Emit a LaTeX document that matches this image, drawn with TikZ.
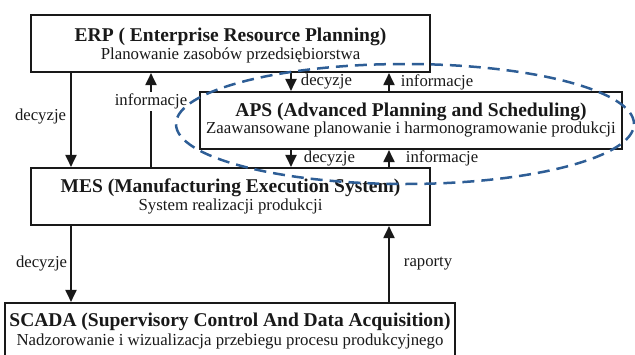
\documentclass[tikz,border=0pt]{standalone}
\usepackage{fontspec}
\setmainfont{Liberation Serif}
\usetikzlibrary{arrows.meta}
\definecolor{dashblue}{RGB}{46,94,150}
\definecolor{ink}{RGB}{25,25,25}
\begin{document}
\begin{tikzpicture}[x=1pt,y=-1pt,
  sysbox/.style={draw=ink, line width=2.1pt, inner sep=0pt, fill=white},
  ttl/.style={anchor=base, inner sep=0pt, text=ink, font=\fontsize{19.5}{22}\selectfont\bfseries},
  sub/.style={anchor=base, inner sep=0pt, text=ink, font=\fontsize{16.8}{19}\selectfont},
  lbl/.style={inner sep=0pt, text=ink, font=\fontsize{16.7}{19}\selectfont},
  arr/.style={line width=1.9pt, draw=ink, -{Triangle[length=12pt,width=11pt]}},
  ring/.style={draw=dashblue, line width=2.5pt, dash pattern=on 12pt off 7pt}
]
\useasboundingbox (0,0) rectangle (635,354);

% boxes
\node[sysbox, minimum width=399pt, minimum height=57pt] (erp) at (230.5,43.5) {};
\node[sysbox, minimum width=422pt, minimum height=57pt] (aps) at (411,120.5) {};
\node[sysbox, minimum width=399pt, minimum height=57pt] (mes) at (230.5,196.5) {};
\node[sysbox, minimum width=450pt, minimum height=57pt] (scada) at (230,331.5) {};

% texts
\node[ttl] (erpT) at (230.5,41.7) {ERP ( Enterprise Resource Planning)};
\node[sub] (erpS) at (230.5,59.5) {Planowanie zasobów przedsiębiorstwa};
\node[ttl] (apsT) at (411,116.5) {APS (Advanced Planning and Scheduling)};
\node[sub] (apsS) at (411,133) {Zaawansowane planowanie i harmonogramowanie produkcji};
\node[ttl] (mesT) at (230.5,192.3) {MES (Manufacturing Execution System)};
\node[sub] (mesS) at (230.5,210) {System realizacji produkcji};
\node[ttl] (scadaT) at (230,326.7) {SCADA (Supervisory Control And Data Acquisition)};
\node[sub] (scadaS) at (230,345.5) {Nadzorowanie i wizualizacja przebiegu procesu produkcyjnego};

% x positions of connectors
\coordinate (xa) at (71,0);
\coordinate (xb) at (151,0);
\coordinate (xc) at (291,0);
\coordinate (xd) at (389,0);

\draw[arr] (erp.south -| xa) -- (mes.north -| xa)
  node[lbl, pos=0.46, anchor=east, xshift=-4pt] {decyzje};
\draw[arr] (mes.north -| xb) -- (erp.south -| xb)
  node[lbl, pos=0.7, fill=white, inner sep=2pt] {informacje};
\draw[arr] (erp.south -| xc) -- (aps.north -| xc)
  node[lbl, midway, anchor=west, xshift=9pt] {decyzje};
\draw[arr] (aps.north -| xd) -- (erp.south -| xd)
  node[lbl, midway, anchor=west, xshift=11pt] {informacje};
\draw[arr] (aps.south -| xc) -- (mes.north -| xc)
  node[lbl, midway, anchor=west, xshift=12pt] {decyzje};
\draw[arr] (mes.north -| xd) -- (aps.south -| xd)
  node[lbl, midway, anchor=west, xshift=16pt] {informacje};
\draw[arr] (mes.south -| xa) -- (scada.north -| xa)
  node[lbl, midway, anchor=east, xshift=-3pt] {decyzje};
\draw[arr] (scada.north -| xd) -- (mes.south -| xd)
  node[lbl, midway, anchor=west, xshift=14pt] {raporty};

% dashed ellipse
\draw[ring] (405,124) ellipse [x radius=229pt, y radius=60pt];
\end{tikzpicture}
\end{document}
